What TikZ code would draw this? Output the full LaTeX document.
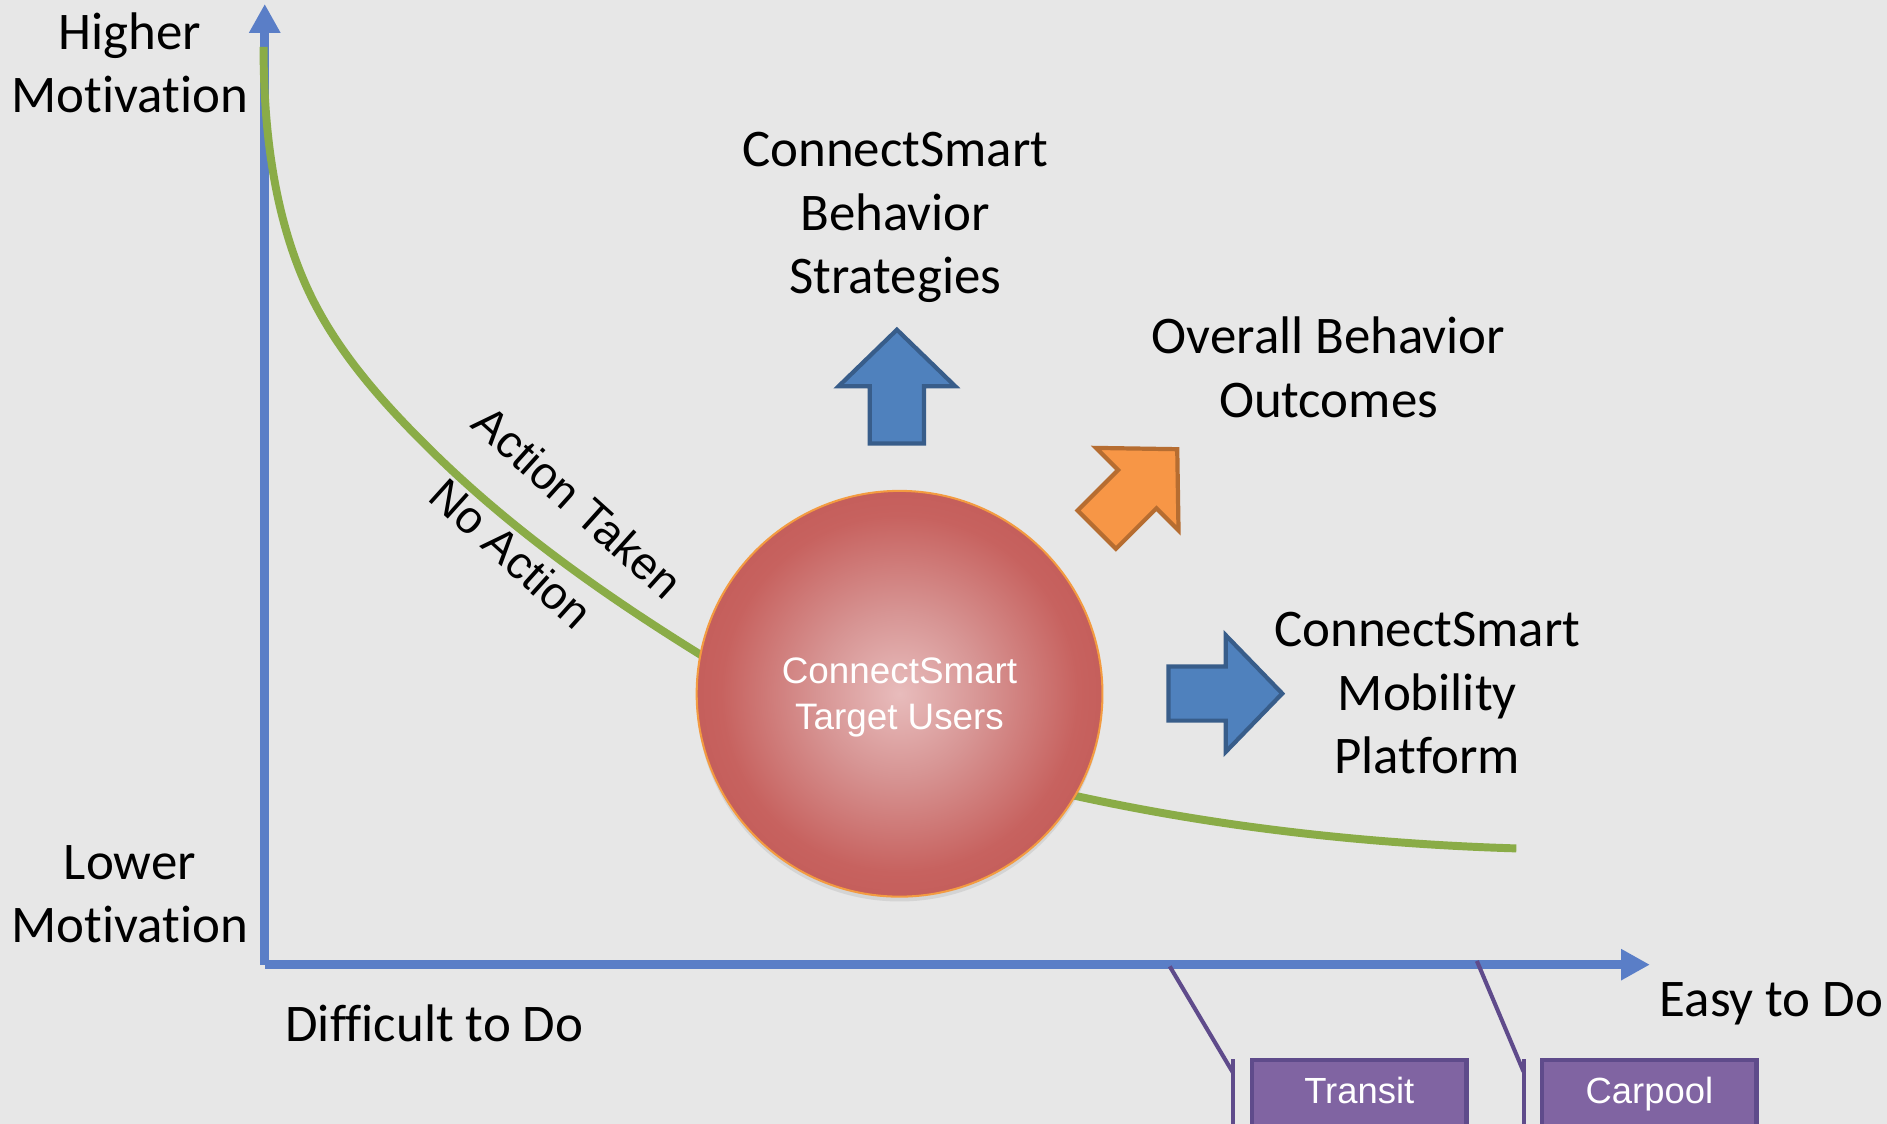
\documentclass[tikz,border=0pt]{standalone}
\usepackage{fontspec}
\setmainfont{Carlito}[Ligatures=NoCommon]
\newfontfamily\arialfont{Liberation Sans}
\usetikzlibrary{arrows.meta, shadows}
\definecolor{bgGray}{HTML}{E7E7E7}
\definecolor{axisBlue}{HTML}{5A7EC7}
\definecolor{curveGreen}{HTML}{8AAC47}
\definecolor{arrowBlue}{HTML}{4F81BD}
\definecolor{arrowBlueDark}{HTML}{385D8A}
\definecolor{arrowOrange}{HTML}{F79646}
\definecolor{arrowOrangeDark}{HTML}{B66D31}
\definecolor{modePurple}{HTML}{8064A2}
\definecolor{modePurpleDark}{HTML}{5F4B8B}
\definecolor{ballLight}{HTML}{E8BCBC}
\definecolor{ballSoft}{HTML}{D79594}
\definecolor{ballRed}{HTML}{C7625F}
\definecolor{ballDeep}{HTML}{BE5350}
\definecolor{ballDark}{HTML}{A04342}
\definecolor{ballRim}{HTML}{F39B41}
\pgfdeclareradialshading{targetball}{\pgfpoint{0bp}{0bp}}{color(0bp)=(ballLight); color(10bp)=(ballSoft); color(22bp)=(ballRed); color(35bp)=(ballDeep); color(50bp)=(ballDark)}
\tikzset{
    pics/fatarrow/.style={code={
        \draw[pic actions] (-47.5,-22.5) -- (0,-22.5) -- (0,-48.5) -- (47,0) -- (0,48.5) -- (0,22.5) -- (-47.5,22.5) -- cycle;
    }}
}

\begin{document}
\begin{tikzpicture}[
        x=0.01cm, y=-0.01cm,
        lab/.style={align=center, font=\fontsize{12.5}{15}\selectfont, text depth=0pt, inner sep=0pt},
        slantlab/.style={font=\arialfont\fontsize{10.8}{13}\selectfont, inner sep=0pt, rotate=-42},
        axisline/.style={draw=axisBlue, line width=0.076cm, -{Triangle[length=0.24cm, width=0.245cm]}},
        motcurve/.style={draw=curveGreen, line width=0.066cm},
        userball/.style={circle, minimum size=3.37cm, inner sep=0pt, shade, shading=targetball, draw=ballRim, line width=0.017cm, text=white, align=center, font=\arialfont\fontsize{8.7}{10.9}\selectfont, text depth=0pt, drop shadow={shadow xshift=0cm, shadow yshift=-0.04cm, opacity=0.18}},
        bluearrow/.style={fill=arrowBlue, draw=arrowBlueDark, line width=0.035cm},
        orangearrow/.style={fill=arrowOrange, draw=arrowOrangeDark, line width=0.035cm},
        modebox/.style={draw=modePurpleDark, fill=modePurple, line width=0.036cm, minimum width=1.78cm, minimum height=0.59cm, text height=0.22cm, text depth=0.085cm, inner sep=0pt, text=white, font=\arialfont\fontsize{8.6}{10}\selectfont},
        calloutline/.style={draw=modePurpleDark, line width=0.034cm}
    ]
        \path[use as bounding box, clip] (0,0) rectangle (1568,934);
        \fill[bgGray] (0,0) rectangle (1568,934);

        % --- Axes ---
        \coordinate (origin) at (220,801.6);
        \coordinate (yTip) at (220,3.3);
        \coordinate (xTip) at (1371,801.6);
        \draw[axisline] (origin) -- (yTip);
        \draw[axisline] (origin) -- (xTip);

        % --- Callouts to the mode boxes ---
        \coordinate (trFoot) at (972,803);
        \coordinate (trKnee) at (1024.7,891.6);
        \coordinate (trBarTop) at (1024.7,880);
        \coordinate (trBarBot) at (1024.7,945);
        \coordinate (cpFoot) at (1227.2,798.5);
        \coordinate (cpKnee) at (1266,890.5);
        \coordinate (cpBarTop) at (1266,880);
        \coordinate (cpBarBot) at (1266,945);
        \draw[calloutline] (trFoot) -- (trKnee);
        \draw[calloutline] (trBarTop) -- (trBarBot);
        \draw[calloutline] (cpFoot) -- (cpKnee);
        \draw[calloutline] (cpBarTop) -- (cpBarBot);
        \node[modebox] (transit) at (1129.5,910.3) {Transit};
        \node[modebox] (carpool) at (1370.6,910.3) {Carpool};

        % --- Action line ---
        \draw[motcurve] (219,39) .. controls (219,107) and (227.4,179.3) .. (256,241)
            .. controls (279.9,292.6) and (319.4,336.2) .. (360,376)
            .. controls (426.3,441) and (503.1,495.1) .. (582,544)
            .. controls (675.5,602) and (784.5,637.4) .. (892,661)
            .. controls (1012.7,687.5) and (1136.5,701.3) .. (1260,705);
        \node[slantlab] (taken) at (480,417) {Action Taken};
        \node[slantlab] (noact) at (425,460) {No Action};

        % --- Target users ---
        \node[userball] (users) at (747.5,576.5) {ConnectSmart\\Target Users};

        % --- Block arrows ---
        \pic[bluearrow, rotate=90] (upArrow) at (745.3,321) {fatarrow};
        \pic[bluearrow] (rightArrow) at (1018.5,576.3) {fatarrow};
        \pic[orangearrow, rotate=45] (diagArrow) at (945,406.5) {fatarrow};

        % --- Labels ---
        \node[lab] (hiMot) at (108,52.2) {Higher\\Motivation};
        \node[lab] (loMot) at (108,742.7) {Lower\\Motivation};
        \node[lab, anchor=base] (hard) at (361,865.5) {Difficult to Do};
        \node[lab, anchor=base] (easy) at (1472,844.8) {Easy to Do};
        \node[lab] (strat) at (744,177.1) {ConnectSmart\\Behavior\\Strategies};
        \node[lab] (outc) at (1104,304.9) {Overall Behavior\\Outcomes};
        \node[lab] (platf) at (1186,576) {ConnectSmart\\Mobility\\Platform};
    \end{tikzpicture}
\end{document}
